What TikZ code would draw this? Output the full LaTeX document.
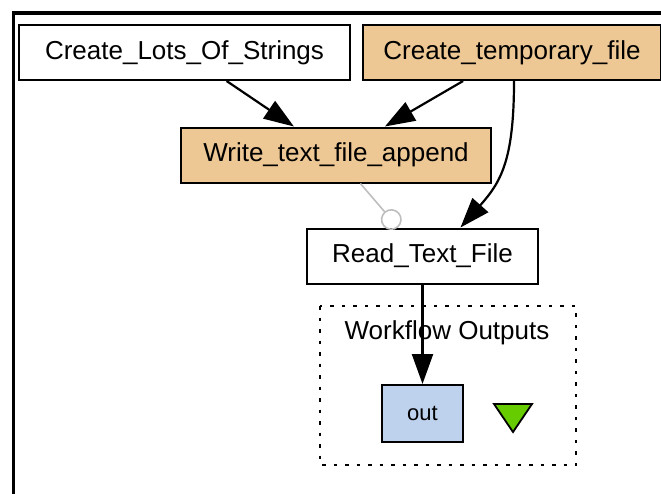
\documentclass[tikz,border=0pt]{standalone}
\usepackage{fontspec}
\setmainfont{Liberation Sans}
\usetikzlibrary{arrows.meta}
\usetikzlibrary{positioning}
\definecolor{procfill}{RGB}{238,200,148}
\definecolor{outfill}{RGB}{190,210,238}
\definecolor{trifill}{RGB}{102,204,0}
\definecolor{ctrlgray}{RGB}{190,190,190}

\begin{document}
\begin{tikzpicture}[x=1pt, y=-1pt,
				proc/.style={draw, rectangle, line width=2pt, inner sep=0pt, minimum height=55pt, font=\fontsize{26}{31}\selectfont},
				flow/.style={draw, line width=2.2pt, -{Triangle[length=30pt, width=21pt]}},
				every text node part/.style={align=center}]
				\useasboundingbox (0,0) rectangle (661,493);
				\begin{scope}
				\clip (0,0) rectangle (661,493);
				\draw[line width=3.8pt] (13.5,500) -- (13.5,13) -- (670,13);
				\end{scope}

				\node[proc, minimum width=331pt](lots) at (184.5, 52.5) {Create\_Lots\_Of\_Strings};
				\node[proc, fill=procfill, minimum width=298pt, right=11pt of lots](tmpfile) {Create\_temporary\_file};
				\node[proc, fill=procfill, minimum width=310pt](writefile) at (336, 155) {Write\_text\_file\_append};
				\node[proc, minimum width=231pt](readfile) at (422.5, 256) {Read\_Text\_File};

				% workflow outputs
				\draw[line width=2.2pt, dash pattern=on 3.5pt off 8pt] (320,306) rectangle (576,465);
				\node[font=\fontsize{26}{31}\selectfont](outlabel) at (447, 333) {Workflow Outputs};
				\node[proc, fill=outfill, minimum width=81pt, minimum height=57pt, font=\fontsize{22}{26}\selectfont](out) at (422.5, 413.5) {out};
				\draw[line width=1.8pt, fill=trifill] (494,404) -- (532,404) -- (513,432) -- cycle;

				\draw[flow] (lots) -- (writefile);
				\draw[flow] (tmpfile) -- (writefile);
				\draw[flow] ([xshift=2pt]tmpfile.south) .. controls +(0,80) and +(40,-45) .. ([xshift=38pt]readfile.north);
				\draw[ctrlgray, line width=1.6pt, -{Circle[open, length=21pt, width=21pt]}] (writefile) -- (readfile);
				\draw[flow] (readfile) -- (out);
			\end{tikzpicture}
\end{document}
